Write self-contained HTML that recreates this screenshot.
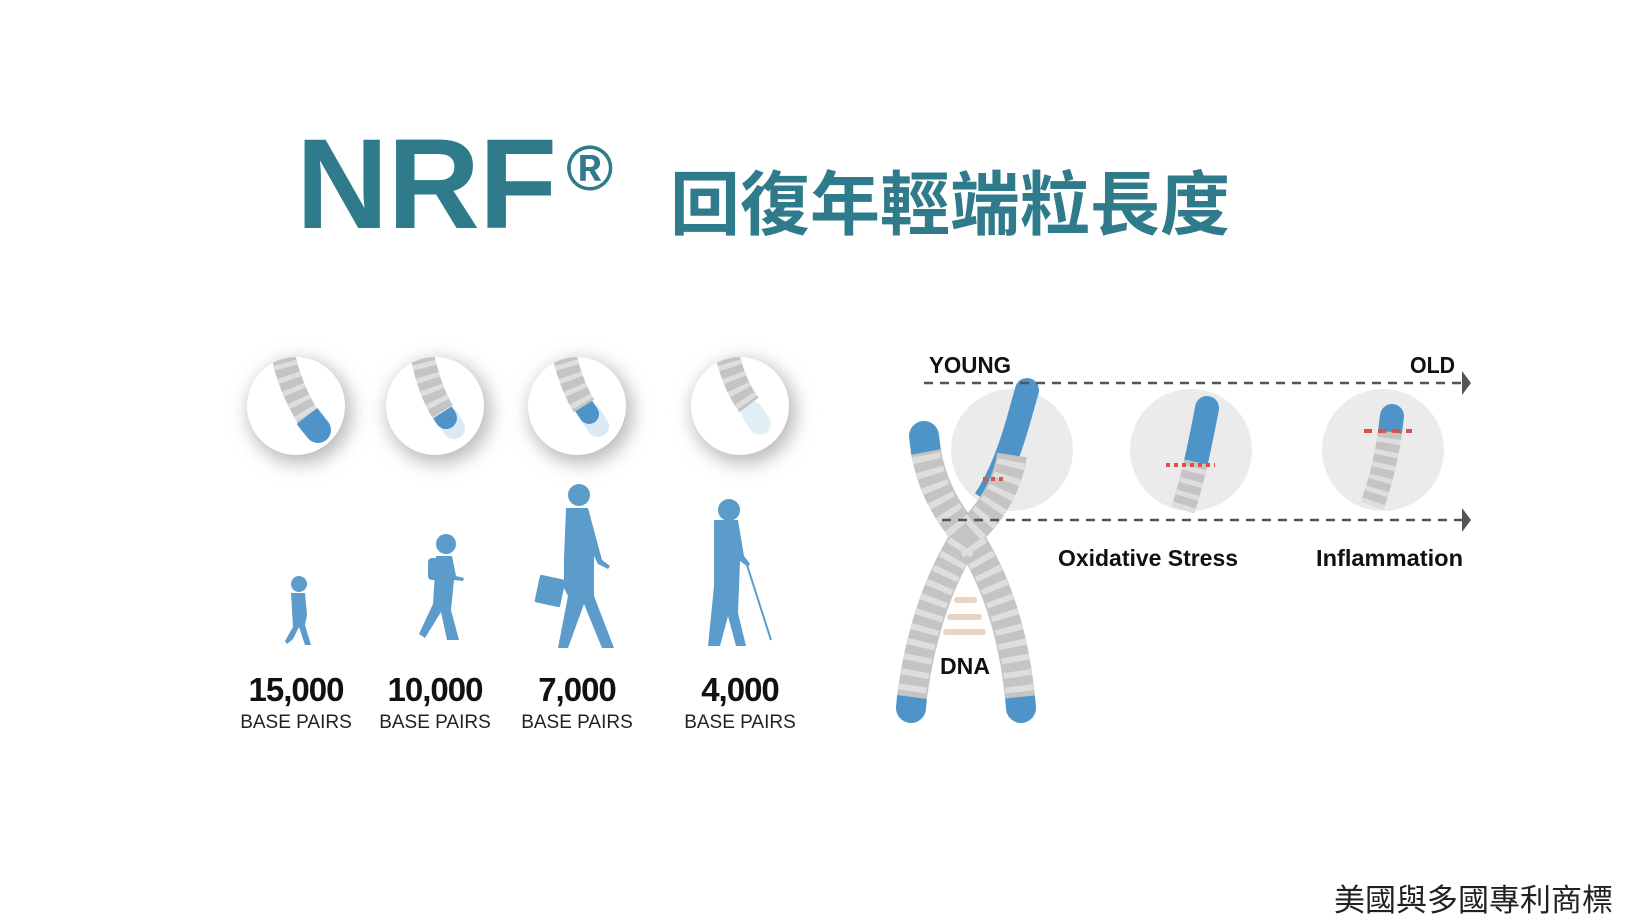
<!DOCTYPE html>
<html><head><meta charset="utf-8"><style>
html,body{margin:0;padding:0;background:#fff;}
body{width:1640px;height:924px;overflow:hidden;position:relative;font-family:"Liberation Sans","Noto Sans CJK TC",sans-serif;}
.t{position:absolute;white-space:nowrap;}
</style></head><body>
<div class="t" style="left:296px;top:98px;font-size:128px;font-weight:bold;color:#2f7b8b;letter-spacing:-1px;line-height:140px;">NRF<span style="font-size:64px;vertical-align:38px;margin-left:10px;">®</span></div>
<div class="t" style="left:670px;top:160px;font-size:70px;font-weight:bold;color:#2f7b8b;line-height:80px;font-family:'Noto Sans CJK TC',sans-serif;">回復年輕端粒長度</div>
<div class="t" style="left:1334px;top:878px;font-size:31px;color:#222;line-height:40px;font-family:'Noto Sans CJK TC',sans-serif;">美國與多國專利商標</div>

<svg width="1640" height="924" style="position:absolute;left:0;top:0" xmlns="http://www.w3.org/2000/svg">
<defs>
<filter id="sh" x="-50%" y="-50%" width="200%" height="200%"><feGaussianBlur stdDeviation="9"/></filter>
<clipPath id="c1"><circle cx="296" cy="406" r="49"/></clipPath>
<clipPath id="c2"><circle cx="435" cy="406" r="49"/></clipPath>
<clipPath id="c3"><circle cx="577" cy="406" r="49"/></clipPath>
<clipPath id="c4"><circle cx="740" cy="406" r="49"/></clipPath>
</defs>
<g>
<circle cx="300" cy="412" r="52" fill="#bbb" filter="url(#sh)"/>
<circle cx="439" cy="412" r="52" fill="#bbb" filter="url(#sh)"/>
<circle cx="581" cy="412" r="52" fill="#bbb" filter="url(#sh)"/>
<circle cx="744" cy="412" r="52" fill="#bbb" filter="url(#sh)"/>
<circle cx="296" cy="406" r="49" fill="#fff"/>
<circle cx="435" cy="406" r="49" fill="#fff"/>
<circle cx="577" cy="406" r="49" fill="#fff"/>
<circle cx="740" cy="406" r="49" fill="#fff"/>
</g>
<g fill="none">
<g clip-path="url(#c1)"><path d="M310 420 L318 430" stroke="#4f94c8" stroke-width="26" stroke-linecap="round"/><path d="M282 350 Q290 390 310 420" stroke="#c4c4c4" stroke-width="24"/><path d="M282 350 Q290 390 310 420" stroke="#dedede" stroke-width="24" stroke-dasharray="5 8"/><path d="M307 416 L314 425" stroke="#4f94c8" stroke-width="26"/></g>
<g clip-path="url(#c2)"><path d="M448 418 L454 428" stroke="#dbe9f4" stroke-width="22" stroke-linecap="round"/><path d="M441 410 L446 418" stroke="#4f94c8" stroke-width="22" stroke-linecap="round"/><path d="M421 350 Q429 390 443 412" stroke="#c4c4c4" stroke-width="24"/><path d="M421 350 Q429 390 443 412" stroke="#dedede" stroke-width="24" stroke-dasharray="5 8"/></g>
<g clip-path="url(#c3)"><path d="M590 414 L598 426" stroke="#dbe9f4" stroke-width="22" stroke-linecap="round"/><path d="M585 408 L589 414" stroke="#4f94c8" stroke-width="20" stroke-linecap="round"/><path d="M563 350 Q571 385 584 406" stroke="#c4c4c4" stroke-width="24"/><path d="M563 350 Q571 385 584 406" stroke="#dedede" stroke-width="24" stroke-dasharray="5 8"/></g>
<g clip-path="url(#c4)"><path d="M752 412 L760 424" stroke="#e2eef6" stroke-width="22" stroke-linecap="round"/><path d="M726 350 Q734 385 749 405" stroke="#c4c4c4" stroke-width="24"/><path d="M726 350 Q734 385 749 405" stroke="#dedede" stroke-width="24" stroke-dasharray="5 8"/></g>
</g>
<g fill="#5b9cca">
<circle cx="299" cy="584" r="8"/><path d="M291 593 h14 l2 22 l-2 10 l6 20 h-6 l-6 -18 l-6 12 l-6 5 l-2 -3 l8 -14 z"/>
<circle cx="446" cy="544" r="10"/><path d="M436 556 h16 l4 20 l8 2 l-1 3 l-9 -1 l-3 30 l8 30 h-12 l-6 -28 l-16 26 l-6 -4 l14 -30 z"/><rect x="428" y="558" width="10" height="22" rx="4"/>
<circle cx="579" cy="495" r="11"/><path d="M566 508 h22 l14 52 l8 6 l-2 3 l-10 -5 l-4 -8 l0 40 l20 52 h-12 l-18 -44 l-16 44 h-10 l10 -52 l-4 -8 v-30 z"/><rect x="537" y="577" width="26" height="28" rx="2" transform="rotate(12 550 591)"/>
<circle cx="729" cy="510" r="11"/><path d="M714 520 h24 l6 36 l6 8 l-2 3 l-8 -6 l-2 52 l8 33 h-10 l-8 -30 l-8 30 h-12 l6 -60 z"/>
</g>
<line x1="747" y1="565" x2="771" y2="640" stroke="#5b9cca" stroke-width="2"/>
<g font-family="Liberation Sans,sans-serif" text-anchor="middle">
<g font-size="33" font-weight="bold" fill="#111" letter-spacing="-1">
<text x="296" y="701">15,000</text><text x="435" y="701">10,000</text><text x="577" y="701">7,000</text><text x="740" y="701">4,000</text></g>
<g font-size="19" fill="#222"><text x="296" y="728">BASE PAIRS</text><text x="435" y="728">BASE PAIRS</text><text x="577" y="728">BASE PAIRS</text><text x="740" y="728">BASE PAIRS</text></g>
</g>
<circle cx="1012" cy="450" r="61" fill="#ebebeb"/>
<circle cx="1191" cy="450" r="61" fill="#ebebeb"/>
<circle cx="1383" cy="450" r="61" fill="#ebebeb"/>
<g fill="none">
<path d="M1020 415 L1027 390" stroke="#4f94c8" stroke-width="24" stroke-linecap="round"/>
<path d="M985 500 Q1005 470 1020 415" stroke="#4f94c8" stroke-width="24"/>
<path d="M1196 462 Q1203 430 1207 408" stroke="#4f94c8" stroke-width="24" stroke-linecap="round"/>
<path d="M1183 510 Q1192 480 1196 462" stroke="#c4c4c4" stroke-width="24"/><path d="M1183 510 Q1192 480 1196 462" stroke="#dedede" stroke-width="24" stroke-dasharray="5 8"/>
<path d="M1390 432 L1392 416" stroke="#4f94c8" stroke-width="24" stroke-linecap="round"/>
<path d="M1372 506 Q1385 470 1390 432" stroke="#c4c4c4" stroke-width="24"/><path d="M1372 506 Q1385 470 1390 432" stroke="#dedede" stroke-width="24" stroke-dasharray="5 8"/>
</g>
<g fill="none">
<path d="M924 436 L926 452" stroke="#4f94c8" stroke-width="30" stroke-linecap="round"/>
<path d="M912 697 L911 708" stroke="#4f94c8" stroke-width="30" stroke-linecap="round"/>
<path d="M1020 697 L1021 708" stroke="#4f94c8" stroke-width="30" stroke-linecap="round"/>
<path d="M926 452 Q935 500 967 535 Q1005 500 1012 455" stroke="#c4c4c4" stroke-width="30"/>
<path d="M967 535 Q925 600 912 697" stroke="#c4c4c4" stroke-width="30"/>
<path d="M967 535 Q1010 600 1020 697" stroke="#c4c4c4" stroke-width="30"/>
<g stroke="#dedede" stroke-width="28" stroke-dasharray="6 9">
<path d="M926 455 Q935 500 962 530"/><path d="M972 530 Q1005 500 1012 458"/>
<path d="M962 545 Q925 600 912 694"/><path d="M972 545 Q1010 600 1020 694"/></g>
</g>
<g stroke="#e0504a" stroke-width="4">
<line x1="983" y1="479" x2="1006" y2="479" stroke-dasharray="4 4"/>
<line x1="1166" y1="465" x2="1215" y2="465" stroke-dasharray="4 4"/>
<line x1="1364" y1="431" x2="1412" y2="431" stroke-dasharray="8 6"/>
</g>
<g stroke="#e8d4c4" stroke-width="6" stroke-linecap="round">
<line x1="957" y1="600" x2="974" y2="600"/><line x1="950" y1="617" x2="979" y2="617"/><line x1="946" y1="632" x2="983" y2="632"/></g>
<g stroke="#555" stroke-width="2.5" stroke-dasharray="9 7">
<line x1="924" y1="383" x2="1462" y2="383"/>
<line x1="942" y1="520" x2="1462" y2="520"/></g>
<polygon points="1462,371 1471,383 1462,395" fill="#555"/>
<polygon points="1462,508 1471,520 1462,532" fill="#555"/>
<g font-family="Liberation Sans,sans-serif" font-weight="bold" fill="#111" font-size="23">
<text x="929" y="373" textLength="82" lengthAdjust="spacingAndGlyphs">YOUNG</text>
<text x="1410" y="373" textLength="45" lengthAdjust="spacingAndGlyphs">OLD</text>
<text x="1058" y="566" textLength="180" lengthAdjust="spacingAndGlyphs">Oxidative Stress</text>
<text x="1316" y="566" textLength="147" lengthAdjust="spacingAndGlyphs">Inflammation</text>
<text x="940" y="674" textLength="50" lengthAdjust="spacingAndGlyphs">DNA</text>
</g>
</svg>
</body></html>
